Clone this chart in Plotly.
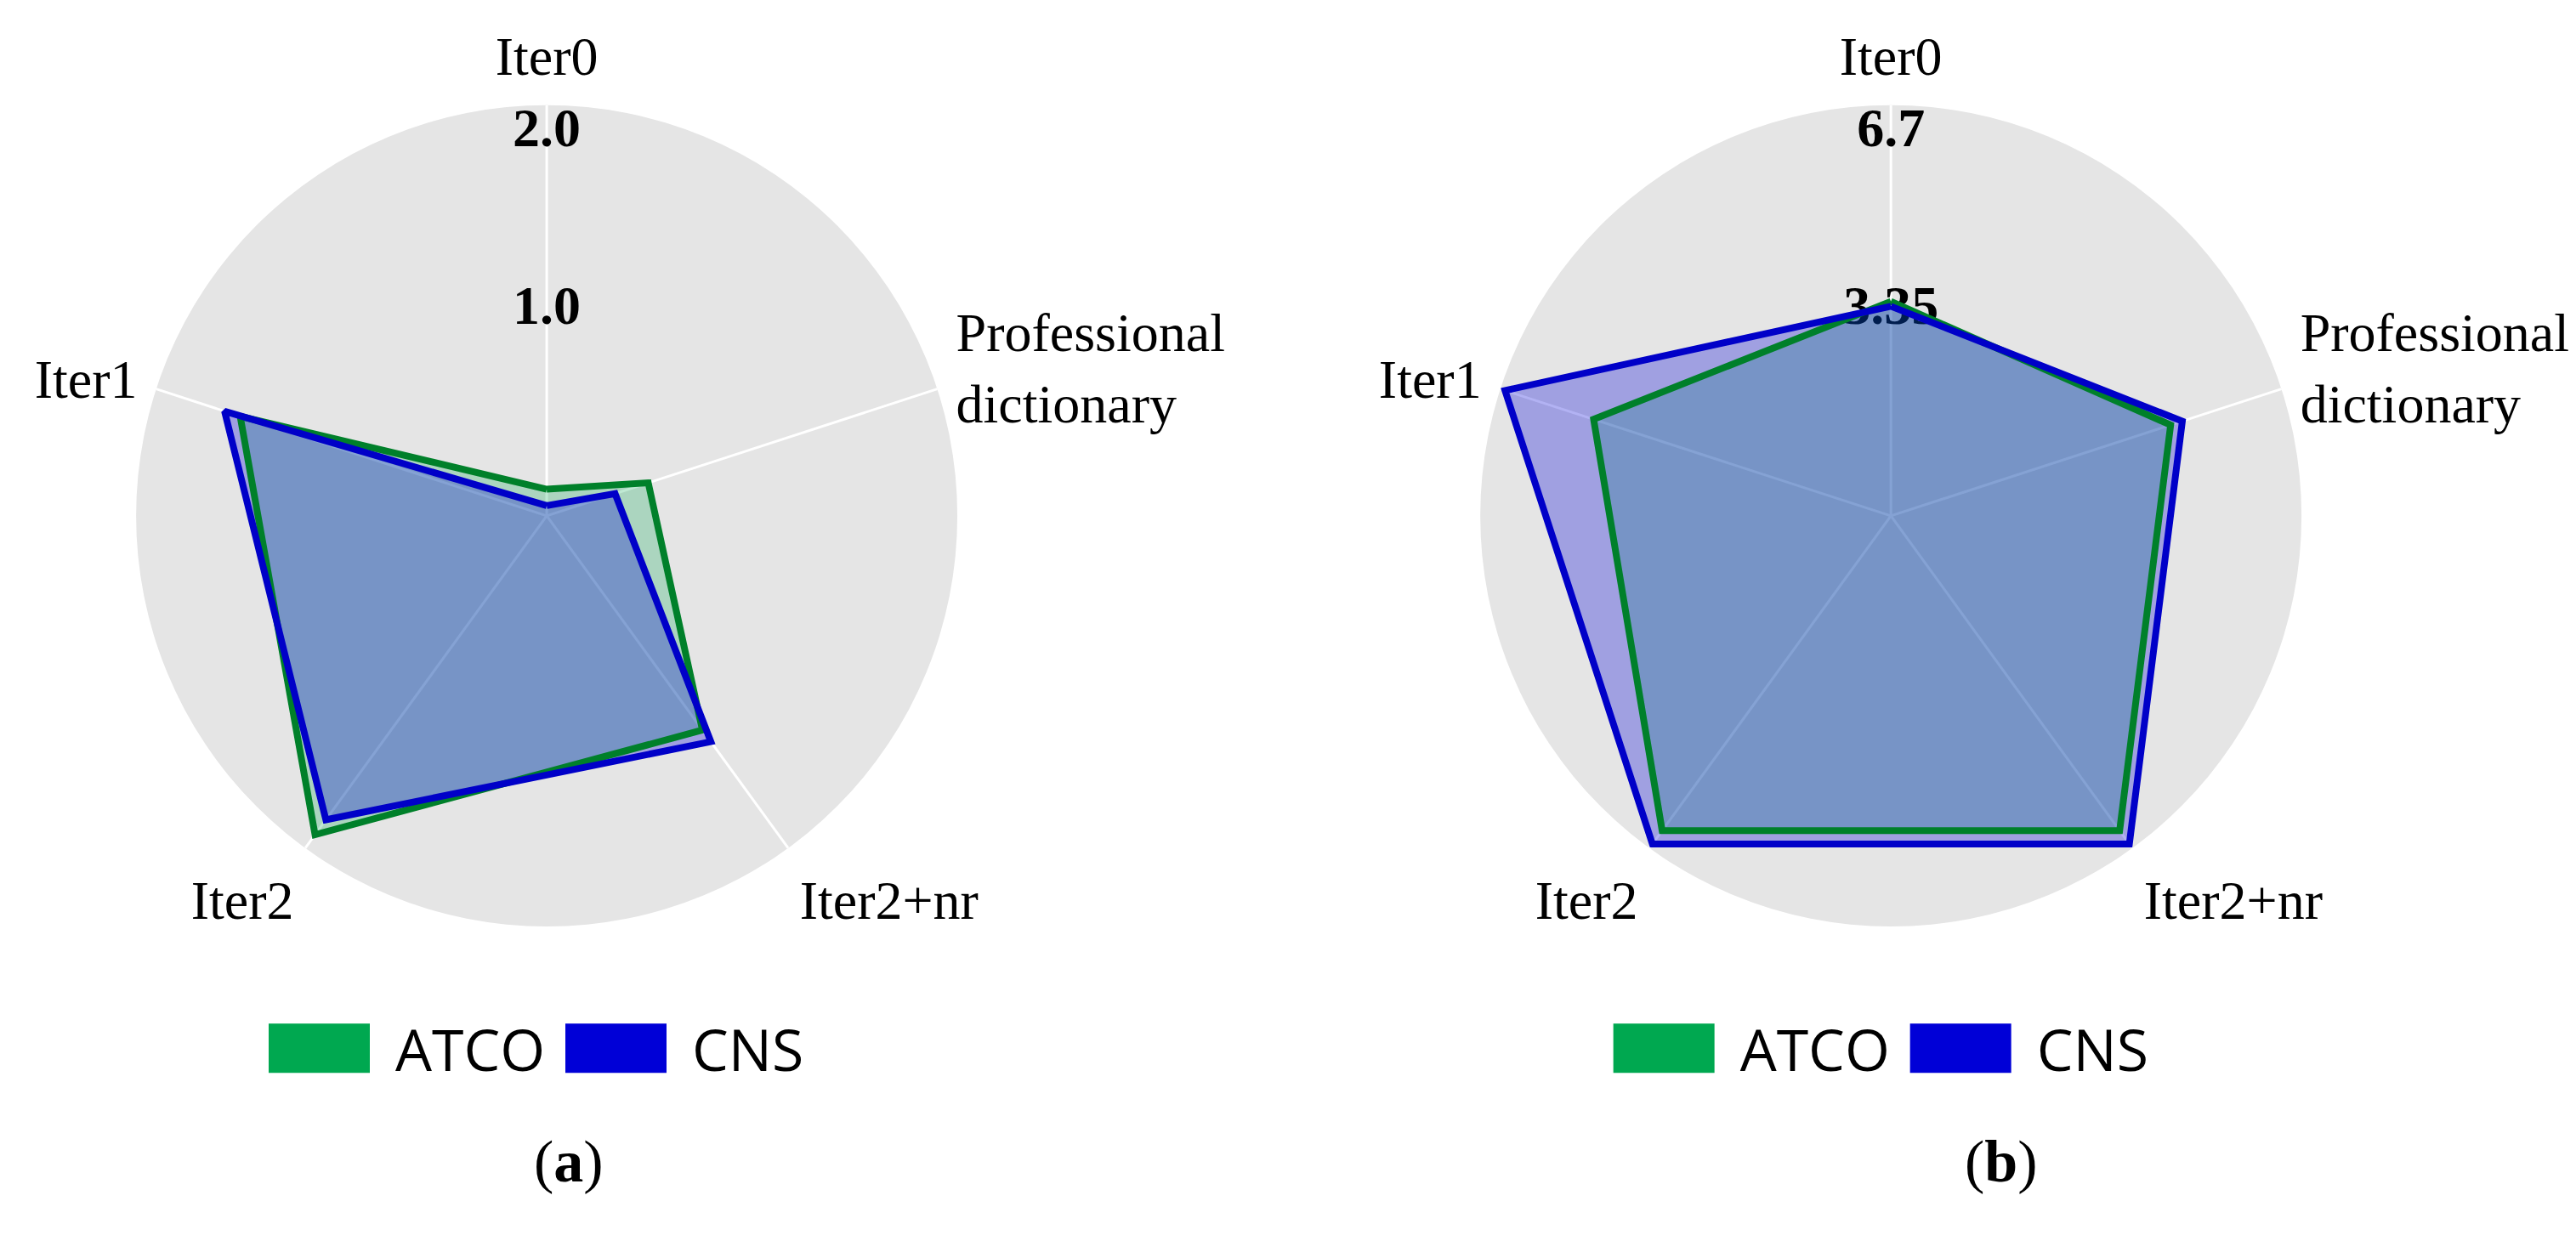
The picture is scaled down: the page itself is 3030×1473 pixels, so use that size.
import plotly.graph_objects as go

# axis categories, clockwise from the top
categories = ["Iter0", "Professional dictionary", "Iter2+nr", "Iter2", "Iter1"]
category_labels = ["Iter0", "Professional<br>dictionary", "Iter2+nr", "Iter2", "Iter1"]

# (a) left chart
atco_a = [0.13, 0.52, 1.29, 1.92, 1.57]
cns_a = [0.05, 0.35, 1.36, 1.83, 1.65]
ticks_a = [1.0, 2.0]
ticktext_a = ["1.0", "2.0"]

# (b) right chart
atco_b = [3.50, 4.80, 6.35, 6.35, 5.10]
cns_b = [3.42, 5.00, 6.62, 6.62, 6.62]
ticks_b = [3.35, 6.7]
ticktext_b = ["3.35", "6.7"]

SERIF = "Times New Roman, Liberation Serif, serif"
SANS = "Segoe UI, Open Sans, sans-serif"
GREEN_LINE = "#00802A"
BLUE_LINE = "#0000C8"
GREEN_FILL = "rgba(0,168,80,0.25)"
BLUE_FILL = "rgba(0,0,215,0.30)"


def closed(vals):
    return list(vals) + [vals[0]]


fig = go.Figure()

for subplot, legend, atco, cns, ticks, ticktext in [
    ("polar", "legend", atco_a, cns_a, ticks_a, ticktext_a),
    ("polar2", "legend2", atco_b, cns_b, ticks_b, ticktext_b),
]:
    # radial tick labels, drawn under the polygons
    fig.add_trace(go.Scatterpolar(
        r=ticks, theta=[categories[0]] * len(ticks), text=ticktext,
        mode="text", textposition=["middle center", "bottom center"],
        textfont=dict(family=SERIF, size=64, color="black", weight="bold"),
        showlegend=False, hoverinfo="skip", subplot=subplot,
    ))
    # fills first, outlines on top
    for name, vals, fillcolor in [("ATCO", atco, GREEN_FILL), ("CNS", cns, BLUE_FILL)]:
        fig.add_trace(go.Scatterpolar(
            r=closed(vals), theta=closed(categories), name=name,
            mode="none", fill="toself", fillcolor=fillcolor,
            subplot=subplot, legend=legend, legendgroup=name,
        ))
    for name, vals, color in [("ATCO", atco, GREEN_LINE), ("CNS", cns, BLUE_LINE)]:
        fig.add_trace(go.Scatterpolar(
            r=closed(vals), theta=closed(categories), name=name,
            mode="lines", line=dict(color=color, width=8),
            subplot=subplot, legend=legend, legendgroup=name, showlegend=False,
        ))

polar_common = dict(
    bgcolor="#E5E5E5",
    angularaxis=dict(
        type="category", direction="clockwise", rotation=90,
        tickvals=categories, ticktext=category_labels,
        tickfont=dict(family=SERIF, size=64, color="black"),
        showline=False, ticks="outside", ticklen=10, tickcolor="rgba(0,0,0,0)",
        gridcolor="white", gridwidth=3,
    ),
)

legend_common = dict(
    orientation="h", y=0.168, yanchor="middle",
    itemwidth=144, entrywidth=190, entrywidthmode="pixels",
    font=dict(family=SANS, size=68, color="black"), bgcolor="rgba(0,0,0,0)",
)

fig.update_layout(
    width=3030, height=1473,
    paper_bgcolor="white",
    margin=dict(l=0, r=0, t=0, b=0),
    polar=dict(
        domain=dict(x=[0.0502, 0.3690], y=[0.2655, 0.9213]),
        radialaxis=dict(range=[0, 2.0], showgrid=False, showline=False,
                        showticklabels=False, ticks=""),
        **polar_common,
    ),
    polar2=dict(
        domain=dict(x=[0.5720, 0.8908], y=[0.2655, 0.9213]),
        radialaxis=dict(range=[0, 6.7], showgrid=False, showline=False,
                        showticklabels=False, ticks=""),
        **polar_common,
    ),
    legend=dict(x=0.100, **legend_common),
    legend2=dict(x=0.622, **legend_common),
    annotations=[
        dict(text="(<b>a</b>)", x=0.204, y=0.05, xref="paper", yref="paper",
             showarrow=False, font=dict(family=SERIF, size=70, color="black")),
        dict(text="(<b>b</b>)", x=0.789, y=0.05, xref="paper", yref="paper",
             showarrow=False, font=dict(family=SERIF, size=70, color="black")),
    ],
)

# legend swatches drawn as solid blocks in the series colour
swatches = """
var gd = document.getElementById('{plot_id}');
function squares() {
  gd.querySelectorAll('g.traces').forEach(function(item) {
    var p = item.querySelector('g.legendfill path');
    if (!p) return;
    p.setAttribute('d', 'M5,-29h119v58h-119z');
    p.style.fillOpacity = 1;
  });
}
squares();
gd.on('plotly_afterplot', squares);
"""

fig.write_html("out.html", post_script=swatches)
